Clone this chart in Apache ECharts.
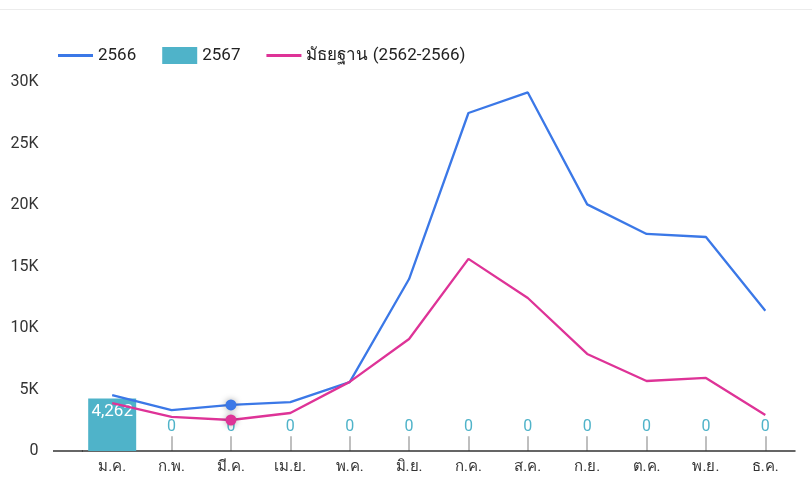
<!DOCTYPE html>
<html>
<head>
<meta charset="utf-8">
<script src="https://cdn.jsdelivr.net/npm/echarts@6/dist/echarts.min.js"></script>
<style>
  html, body { margin: 0; padding: 0; background: #fff; }
  #chart { width: 812px; height: 477px; }
</style>
</head>
<body>
<div id="chart"></div>
<script>
// Monthly case counts: 2566 vs 2567 and the 5-year median
const months = ['ม.ค.', 'ก.พ.', 'มี.ค.', 'เม.ย.', 'พ.ค.', 'มิ.ย.', 'ก.ค.', 'ส.ค.', 'ก.ย.', 'ต.ค.', 'พ.ย.', 'ธ.ค.'];
const cases2566 = [4550, 3330, 3750, 3980, 5600, 13980, 27480, 29150, 20050, 17650, 17400, 11400];
const cases2567 = [4262, 0, 0, 0, 0, 0, 0, 0, 0, 0, 0, 0];
const median = [3900, 2770, 2520, 3090, 5620, 9110, 15620, 12440, 7890, 5690, 5940, 2930];
const yTicks = [0, 5000, 10000, 15000, 20000, 25000, 30000];

const FONT = 'Roboto, "Noto Sans", sans-serif';
const BLUE = '#3b78e7';
const TEAL = '#4fb3c9';
const PINK = '#de3397';

const chart = echarts.init(document.getElementById('chart'), null, { renderer: 'canvas' });

const barData = cases2567.map(v => v > 0
  ? { value: v, label: { position: 'insideTop', color: '#fff', distance: 5, fontSize: 17 } }
  : { value: v });

chart.setOption({
  animation: false,
  textStyle: { fontFamily: FONT },
  legend: {
    left: 53, top: 42,
    itemWidth: 35, itemHeight: 17, itemGap: 26,
    textStyle: { fontSize: 17, color: '#222', fontFamily: FONT },
    data: [
      { name: '2566', icon: 'path://M0,7 L35,7 L35,10 L0,10 Z' },
      { name: '2567', icon: 'rect' },
      { name: 'มัธยฐาน (2562-2566)', icon: 'path://M0,7 L35,7 L35,10 L0,10 Z' }
    ]
  },
  grid: { left: 82.5, right: 17, top: 82, bottom: 26 },
  xAxis: {
    type: 'category',
    data: months,
    axisLine: { lineStyle: { color: '#333', width: 1.5 } },
    axisTick: { show: false },
    axisLabel: { fontSize: 15, color: '#333', margin: 9, fontFamily: FONT }
  },
  yAxis: {
    type: 'value',
    min: 0, max: 30000, interval: 5000,
    splitLine: { show: false },
    axisLine: { show: false },
    axisTick: { show: false },
    axisLabel: {
      fontSize: 16, color: '#333', margin: 44, fontFamily: FONT,
      formatter: v => yTicks.includes(v) ? (v === 0 ? '0' : (v / 1000) + 'K') : ''
    }
  },
  series: [
    {
      // month tick marks rising from the baseline, drawn beneath the bars
      name: 'ticks',
      type: 'line',
      data: [],
      z: 0,
      silent: true,
      markLine: {
        silent: true, symbol: 'none', z: 0,
        lineStyle: { color: '#aaa', type: 'solid', width: 1.5 },
        label: { show: false },
        data: months.map(m => [{ coord: [m, 0] }, { coord: [m, 1200] }])
      }
    },
    {
      name: '2567',
      type: 'bar',
      data: barData,
      barWidth: 48,
      itemStyle: { color: TEAL },
      z: 2,
      label: {
        show: true, position: 'top', distance: 16,
        fontSize: 16, color: TEAL, fontFamily: FONT,
        formatter: p => p.value.toLocaleString('en-US')
      }
    },
    {
      name: '2566',
      type: 'line',
      data: cases2566.map((v, i) => i === 2
        ? { value: v, symbol: 'circle', symbolSize: 11, itemStyle: { color: BLUE, shadowBlur: 6, shadowColor: 'rgba(0,0,0,0.35)' } }
        : v),
      symbol: 'none',
      lineStyle: { color: BLUE, width: 2.3 },
      itemStyle: { color: BLUE },
      z: 3
    },
    {
      name: 'มัธยฐาน (2562-2566)',
      type: 'line',
      data: median.map((v, i) => i === 2
        ? { value: v, symbol: 'circle', symbolSize: 11, itemStyle: { color: PINK, shadowBlur: 6, shadowColor: 'rgba(0,0,0,0.35)' } }
        : v),
      symbol: 'none',
      lineStyle: { color: PINK, width: 2.3 },
      itemStyle: { color: PINK },
      z: 3
    }
  ]
});

// Thin divider above the chart and the baseline continuation to the left
const zeroY = chart.convertToPixel({ yAxisIndex: 0 }, 0);
chart.setOption({
  graphic: [
    { type: 'rect', shape: { x: 0, y: 9, width: 812, height: 1 }, style: { fill: '#ececec' }, silent: true },
    { type: 'line', shape: { x1: 53, y1: zeroY, x2: 83, y2: zeroY }, style: { stroke: '#333', lineWidth: 1.5 }, silent: true }
  ]
});
</script>
</body>
</html>
